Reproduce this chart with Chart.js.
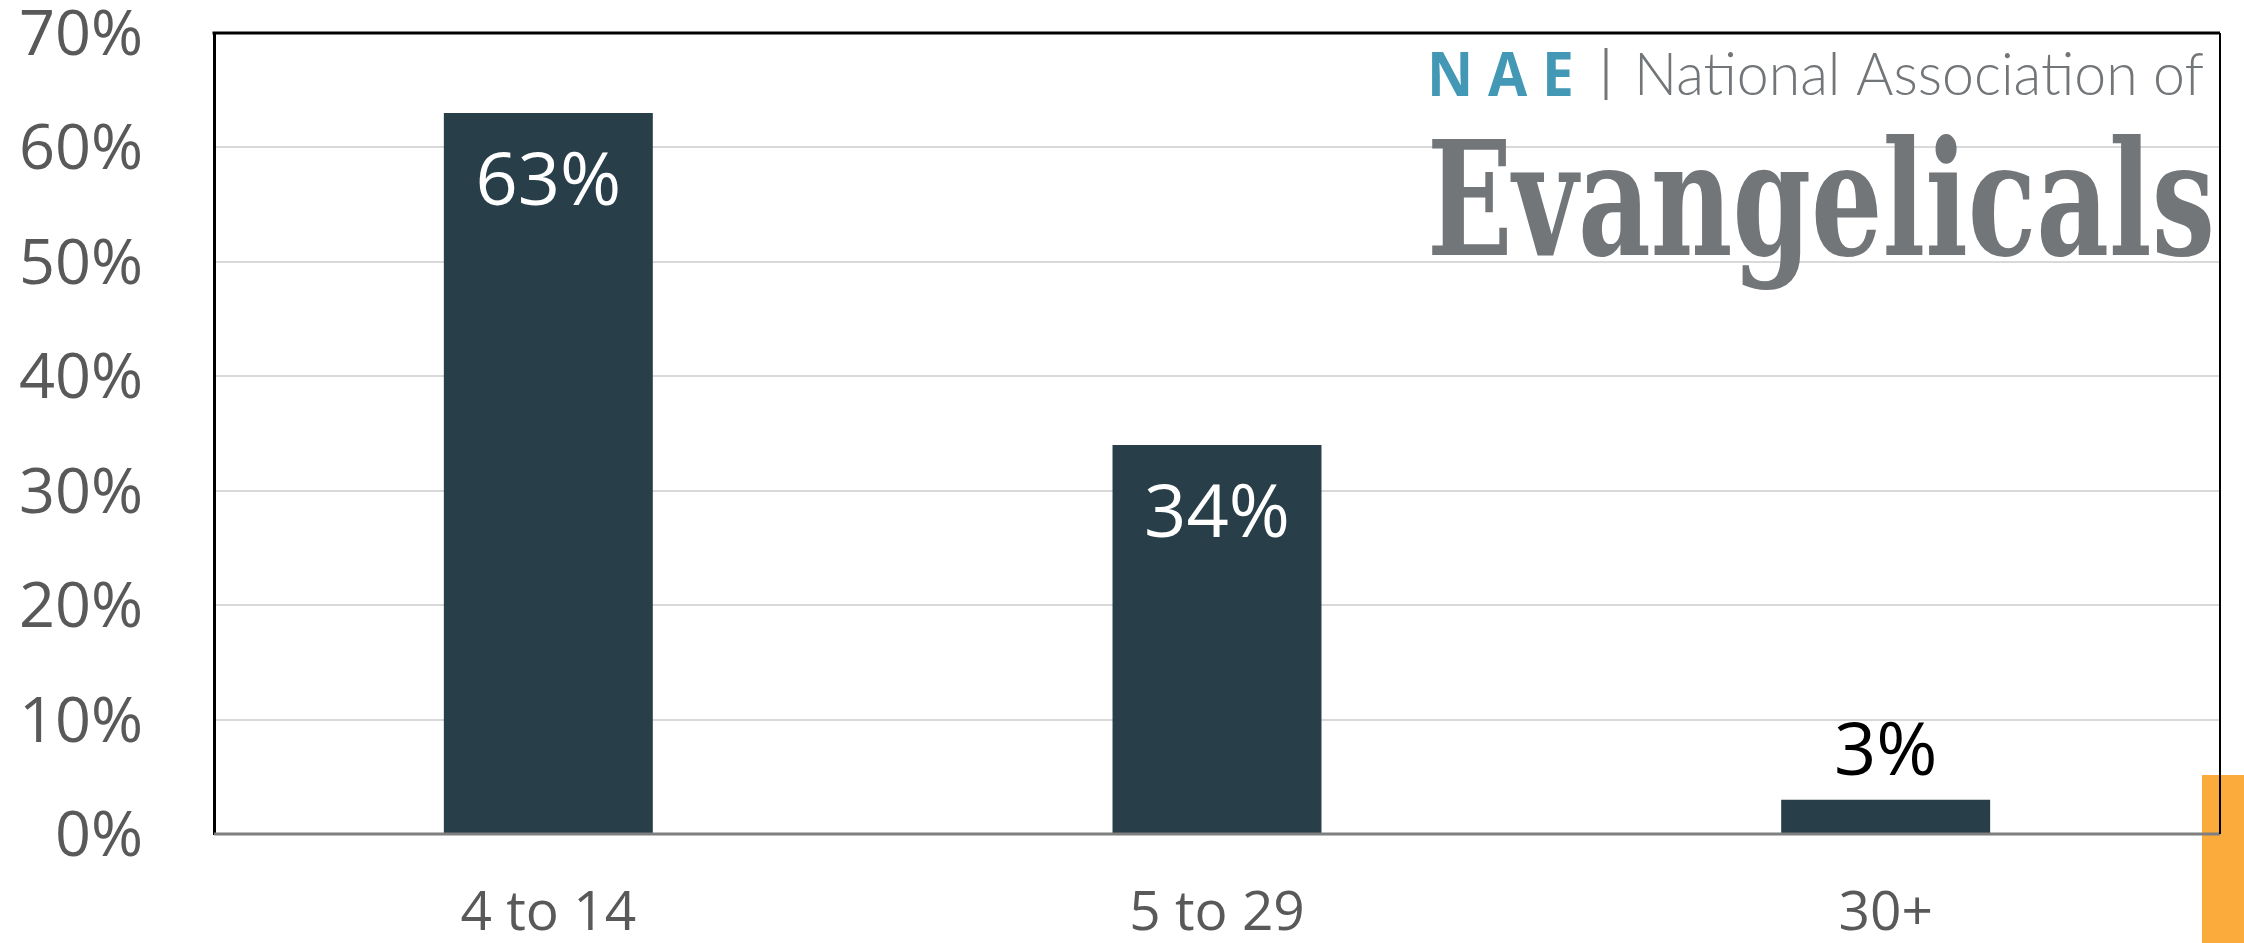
<!DOCTYPE html>
<html>
<head>
<meta charset="utf-8">
<script src="https://cdn.jsdelivr.net/npm/chart.js@4.4.1/dist/chart.umd.min.js"></script>
<style>
  html, body { margin: 0; padding: 0; background: #fff; }
  #wrap { width: 2244px; height: 943px; }
</style>
</head>
<body>
<div id="wrap"><canvas id="c" width="2244" height="943"></canvas></div>
<script>
// ── Données ─────────────────────────────────────────────────────────────
const CATEGORIES = ['4 to 14', '5 to 29', '30+'];
const VALUES     = [63, 34, 3];
const Y_MIN  = 0;
const Y_MAX  = 70;
const Y_STEP = 10;

// ── Couleurs ────────────────────────────────────────────────────────────
const BAR    = '#283f4a';
const TICK   = '#595959';
const GRID   = '#d9d9d9';
const TEAL   = '#4298b5';
const LOGO   = '#737679';
const ORANGE = '#fbab3b';
const FONT   = "'Open Sans', 'Noto Sans', sans-serif";

// ── Décor : fond, bordures, étiquettes, logo ────────────────────────────
const deco = {
    id: 'deco',
    beforeDraw(chart) {
        const { ctx, width, height } = chart;
        ctx.save();
        ctx.fillStyle = '#fff';
        ctx.fillRect(0, 0, width, height);
        // bandeau orange coupé en bas à droite
        ctx.fillStyle = ORANGE;
        ctx.fillRect(width - 42, 775, 42, height - 775);
        ctx.restore();
    },
    afterDatasetsDraw(chart) {
        const { ctx, chartArea: a } = chart;
        ctx.save();
        // ligne de base grise par-dessus les barres
        ctx.strokeStyle = '#7f7f7f';
        ctx.lineWidth = 3;
        ctx.beginPath();
        ctx.moveTo(a.left, a.bottom);
        ctx.lineTo(a.right, a.bottom);
        ctx.stroke();

        // valeurs
        ctx.font = `74px ${FONT}`;
        ctx.textAlign = 'center';
        ctx.textBaseline = 'alphabetic';
        chart.getDatasetMeta(0).data.forEach((bar, i) => {
            const v = VALUES[i];
            const txt = v + '%';
            if (v > 10) {
                ctx.fillStyle = '#fff';
                ctx.fillText(txt, bar.x, bar.y + 92);
            } else {
                ctx.fillStyle = '#000';
                ctx.fillText(txt, bar.x, bar.y - 25);
            }
        });
        ctx.restore();
    },
    afterDraw(chart) {
        const { ctx, chartArea: a } = chart;
        ctx.save();
        // cadre haut / droite
        ctx.strokeStyle = '#000';
        ctx.lineWidth = 3;
        ctx.beginPath();
        ctx.moveTo(a.left - 1.5, a.top);
        ctx.lineTo(a.right, a.top);
        ctx.stroke();
        ctx.lineWidth = 2;
        ctx.beginPath();
        ctx.moveTo(a.right, a.top);
        ctx.lineTo(a.right, a.bottom);
        ctx.stroke();

        // logo NAE
        ctx.textAlign = 'left';
        ctx.textBaseline = 'alphabetic';
        ctx.fillStyle = TEAL;
        ctx.font = `bold 60px ${FONT}`;
        ctx.fillText('N A E', 1427, 96, 147);

        ctx.strokeStyle = LOGO;
        ctx.lineWidth = 3;
        ctx.beginPath();
        ctx.moveTo(1606, 48);
        ctx.lineTo(1606, 100);
        ctx.stroke();

        ctx.fillStyle = LOGO;
        ctx.font = "300 60px Lato, 'Open Sans', sans-serif";
        ctx.fillText('National Association of', 1634, 95, 570);

        ctx.font = "bold 160px 'DejaVu Serif Condensed', 'DejaVu Serif', serif";
        ctx.fillText('Evangelicals', 1427, 255, 788);
        ctx.restore();
    }
};

new Chart(document.getElementById('c'), {
    type: 'bar',
    data: {
        labels: CATEGORIES,
        datasets: [{
            data: VALUES,
            backgroundColor: BAR,
            borderWidth: 0,
            barPercentage: 0.3125,
            categoryPercentage: 1,
        }],
    },
    options: {
        responsive: false,
        animation: false,
        devicePixelRatio: 1,
        layout: { padding: { top: 33, right: 24, left: 0, bottom: 0 } },
        plugins: {
            legend: { display: false },
            tooltip: { enabled: false },
        },
        scales: {
            x: {
                grid: { display: false, drawTicks: false },
                border: { display: false },
                ticks: {
                    color: TICK,
                    font: { family: FONT, size: 55 },
                    padding: 47,
                },
                afterFit(s) {
                    s.height = 109;
                    s.paddingLeft = 0;
                    s.paddingRight = 0;
                },
            },
            y: {
                min: Y_MIN,
                max: Y_MAX,
                grid: { color: GRID, lineWidth: 2, drawTicks: false },
                border: { display: true, color: '#000', width: 3 },
                ticks: {
                    stepSize: Y_STEP,
                    color: TICK,
                    font: { family: FONT, size: 63 },
                    padding: 71,
                    labelOffset: 4,
                    callback: v => v + '%',
                },
                afterFit(s) {
                    s.width = 214;
                    s.paddingTop = 0;
                    s.paddingBottom = 0;
                },
            },
        },
    },
    plugins: [deco],
});
</script>
</body>
</html>
